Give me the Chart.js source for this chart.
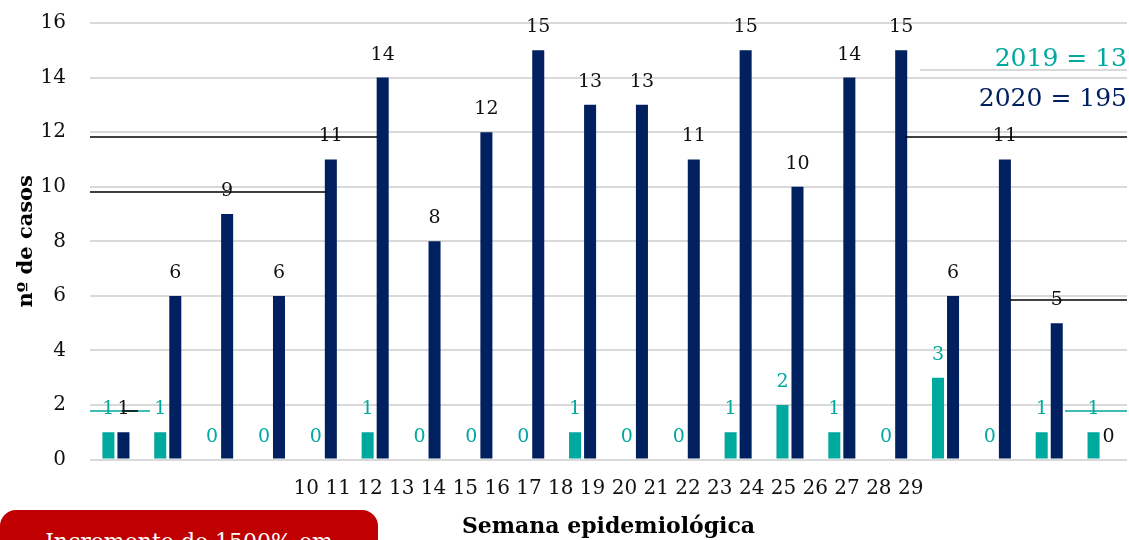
<!DOCTYPE html>
<html>
<head>
<meta charset="utf-8">
<script src="https://cdn.jsdelivr.net/npm/chart.js@4.4.1/dist/chart.umd.min.js"></script>
<style>
  body { margin: 0; background: #fff; }
  #wrap { position: relative; width: 1129px; height: 540px; overflow: hidden; }
  #totais { position: absolute; right: 2px; top: 38px; text-align: right; font: 25px "DejaVu Serif"; line-height: 40px; }
  #totais .linha { position: absolute; right: 0; top: 31px; width: 207px; height: 2px; background: #d9d9d9; }
  #caixa { position: absolute; left: 0; top: 510px; width: 378px; height: 60px; background: #c00000;
           border-radius: 16px; color: #fff; font: 22px "DejaVu Serif"; line-height: 22px;
           padding-top: 21px; box-sizing: border-box; text-align: center; }
</style>
</head>
<body>
<div id="wrap">
  <canvas id="grafico" width="1129" height="540"></canvas>
  <div id="totais">
    <div class="linha"></div>
    <div style="color:#00a99d">2019 = 13</div>
    <div style="color:#002060">2020 = 195</div>
  </div>
  <div id="caixa">Incremento de 1500% em</div>
</div>
<script>
// semanas epidemiológicas 10 a 29
const semanas = ['10', '11', '12', '13', '14', '15', '16', '17', '18', '19',
                 '20', '21', '22', '23', '24', '25', '26', '27', '28', '29'];
const casos2019 = [1, 1, 0, 0, 0, 1, 0, 0, 0, 1, 0, 0, 1, 2, 1, 0, 3, 0, 1, 1];
const casos2020 = [1, 6, 9, 6, 11, 14, 8, 12, 15, 13, 13, 11, 15, 10, 14, 15, 6, 11, 5, 0];
const yTicks = [0, 2, 4, 6, 8, 10, 12, 14, 16];

// linhas soltas que aparecem por cima do gráfico original (x1, x2, y, cor)
const linhasSoltas = [
  [90, 377, 137, '#000'], [90, 327, 192, '#000'], [905, 1127, 137, '#000'],
  [1010, 1127, 300, '#000'], [90, 150, 411, '#00a99d'], [122, 138, 411, '#000'],
  [1065, 1127, 411, '#00a99d']
];

const rotulos = {
  id: 'rotulos',
  afterDatasetsDraw(chart) {
    const ctx = chart.ctx;
    ctx.save();
    ctx.font = '19px "DejaVu Serif"';
    ctx.textAlign = 'center';
    ctx.textBaseline = 'middle';
    chart.data.datasets.forEach((ds, i) => {
      chart.getDatasetMeta(i).data.forEach((bar, j) => {
        ctx.fillStyle = ds.corRotulo;
        ctx.fillText(ds.data[j], bar.x, bar.y - 23);
      });
    });
    linhasSoltas.forEach(l => {
      ctx.strokeStyle = l[3];
      ctx.lineWidth = 1.5;
      ctx.beginPath();
      ctx.moveTo(l[0], l[2]);
      ctx.lineTo(l[1], l[2]);
      ctx.stroke();
    });
    ctx.restore();
  }
};

new Chart(document.getElementById('grafico').getContext('2d'), {
  type: 'bar',
  data: {
    labels: semanas,
    datasets: [
      { label: '2019', data: casos2019, backgroundColor: '#00a99d', corRotulo: '#00a99d',
        barPercentage: 0.8, categoryPercentage: 0.58 },
      { label: '2020', data: casos2020, backgroundColor: '#002060', corRotulo: '#111',
        barPercentage: 0.8, categoryPercentage: 0.58 }
    ]
  },
  options: {
    responsive: false,
    animation: false,
    layout: { padding: { top: 23, right: 2, left: 0, bottom: 0 } },
    plugins: {
      legend: { display: false },
      tooltip: { enabled: false },
      title: {
        display: true,
        position: 'bottom',
        fullSize: false,
        text: 'Semana epidemiológica',
        color: '#000',
        font: { family: 'DejaVu Serif', size: 22, weight: 'bold' },
        padding: { top: 0, bottom: 0 }
      }
    },
    scales: {
      x: {
        grid: { display: false },
        border: { display: false },
        ticks: { display: false },
        title: {
          display: true,
          text: semanas.join(' '),
          color: '#111',
          font: { family: 'DejaVu Serif', size: 20 },
          padding: { top: 0, bottom: 13 }
        },
        afterFit(scale) { scale.height = 54; }
      },
      y: {
        min: 0,
        max: 16,
        afterBuildTicks(scale) { scale.ticks = yTicks.map(v => ({ value: v })); },
        grid: { color: '#d9d9d9', lineWidth: 2, drawTicks: true, tickLength: 24, tickColor: 'transparent' },
        border: { display: false },
        ticks: { color: '#111', padding: 0, font: { family: 'DejaVu Serif', size: 20 } },
        title: {
          display: true,
          text: 'nº de casos',
          color: '#000',
          font: { family: 'DejaVu Serif', size: 21, weight: 'bold' },
          padding: { top: 14 }
        },
        afterFit(scale) { scale.width = 90; }
      }
    }
  },
  plugins: [rotulos]
});
</script>
</body>
</html>
